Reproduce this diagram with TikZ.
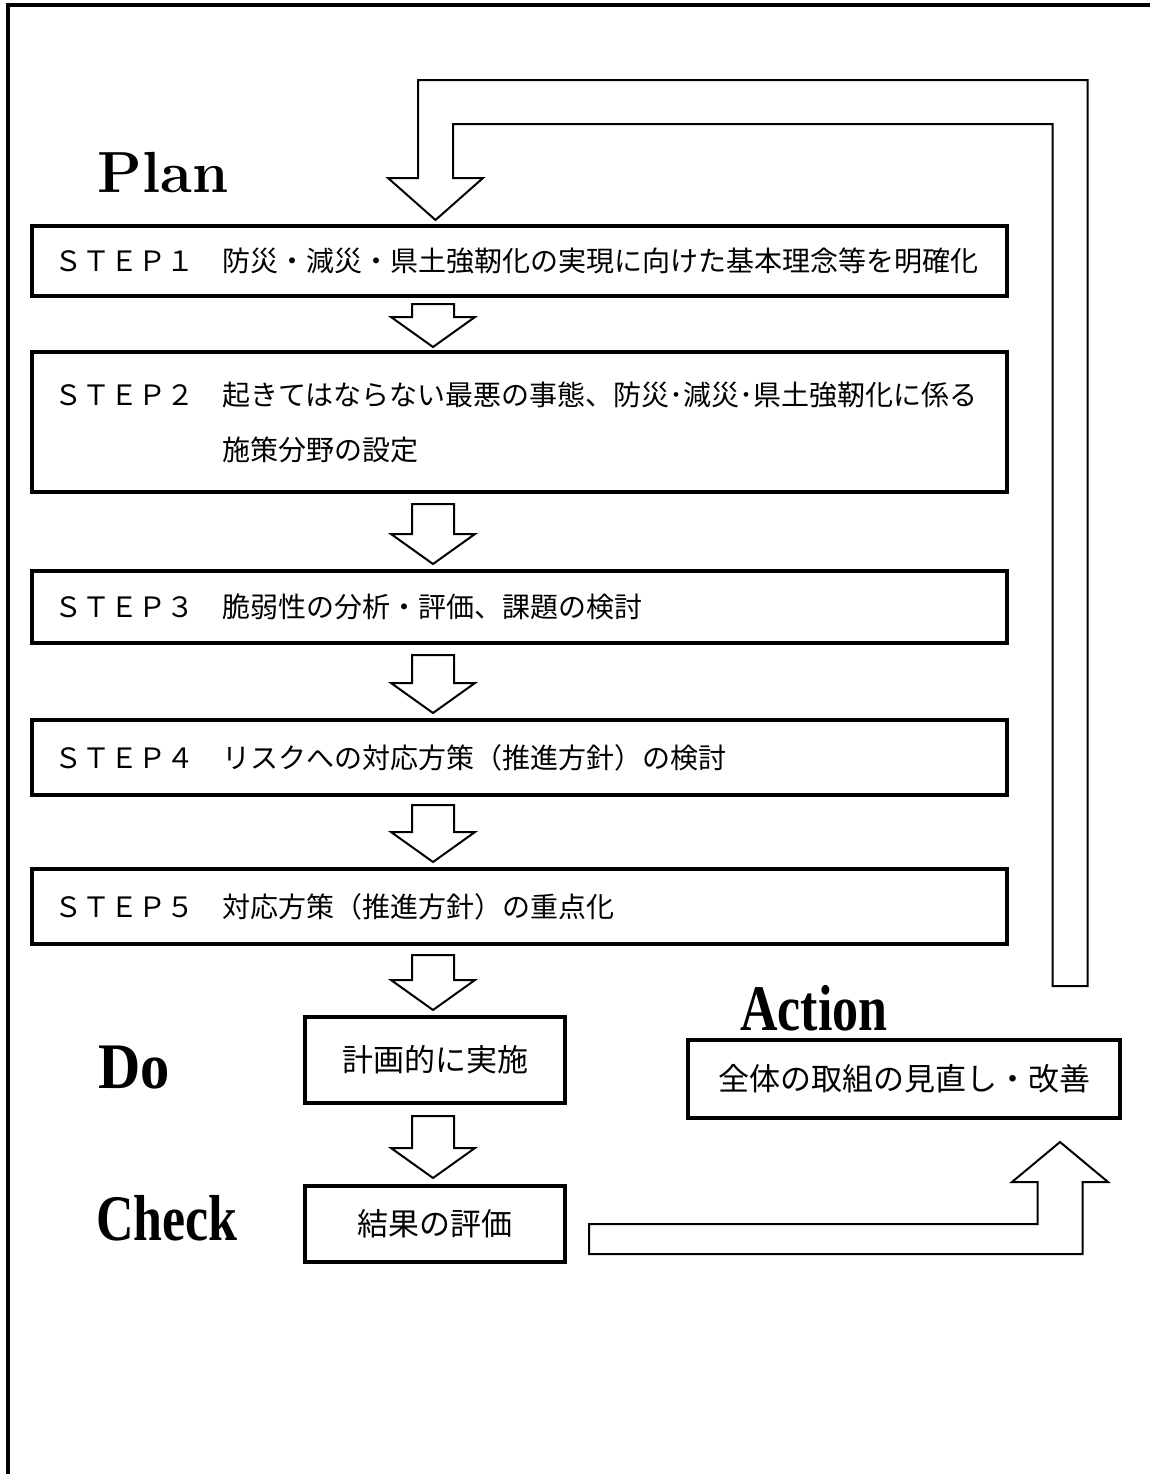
\documentclass[tikz,border=0pt]{standalone}
\usepackage{fontspec}
\usepackage{graphicx}
\newfontfamily\jpfont{Noto Sans CJK JP}
\newfontfamily\lsfont{Liberation Serif}
\usetikzlibrary{calc}
\tikzset{
  stepbox/.style={draw, line width=2pt, inner xsep=11.25pt, inner ysep=0pt, text width=465pt, align=left,
    font=\jpfont\fontsize{14pt}{27.5pt}\selectfont},
  smallbox/.style={draw, line width=2pt, inner sep=0pt, font=\jpfont\fontsize{15.5pt}{18pt}\selectfont},
  blockarrow/.style={draw, line width=1pt, fill=white, line join=miter},
  phase/.style={font=\lsfont\bfseries\fontsize{32.5pt}{36pt}\selectfont, anchor=base, inner sep=0pt},
  frameline/.style={line width=2pt},
}
\newcommand\blockdown[2]{%
  \path[blockarrow] let \p1=(#1), \p2=(#2) in
    (\x1-10.5pt,\y1) -- (\x1+10.5pt,\y1) -- (\x1+10.5pt,\y2+15pt) -- (\x1+21pt,\y2+15pt)
    -- (\x1,\y2) -- (\x1-21pt,\y2+15pt) -- (\x1-10.5pt,\y2+15pt) -- cycle;}
\begin{document}
\begin{tikzpicture}[x=0.5pt,y=-0.5pt]
\useasboundingbox (0,0) rectangle (1150,1474);
\fill[white] (0,0) rectangle (1150,1474);
% frame
\draw[frameline] (8,1490) -- (8,5) -- (1170,5);

% helper x positions
\coordinate (ax) at (433,0);
\coordinate (lx) at (435.5,0);
\coordinate (rx) at (1070,0);
\coordinate (ux) at (1060,0);

% step boxes
\node[stepbox, minimum height=35pt] (s1) at (519.5,261)
  {ＳＴＥＰ１　防災・減災・県土強靭化の実現に向けた基本理念等を明確化};
\node[stepbox, minimum height=70pt] (s2) at (519.5,422)
  {ＳＴＥＰ２　起きてはならない最悪の事態、防災･減災･県土強靭化に係る\\\hspace*{84pt}施策分野の設定};
\node[stepbox, minimum height=36pt] (s3) at (519.5,607)
  {ＳＴＥＰ３　脆弱性の分析・評価、課題の検討};
\node[stepbox, minimum height=37.5pt] (s4) at (519.5,757.5)
  {ＳＴＥＰ４　リスクへの対応方策（推進方針）の検討};
\node[stepbox, minimum height=37.5pt] (s5) at (519.5,906.5)
  {ＳＴＥＰ５　対応方策（推進方針）の重点化};

% Do / Check / Action boxes
\node[smallbox, minimum width=130pt, minimum height=43pt] (do) at (435,1060) {計画的に実施};
\node[smallbox, minimum width=130pt, minimum height=38pt] (chk) at (435,1224) {結果の評価};
\node[smallbox, minimum width=216pt, minimum height=39pt] (act) at (904,1079) {全体の取組の見直し・改善};

% phase labels
\node[font=\bfseries\fontsize{29pt}{32pt}\selectfont, anchor=base, inner sep=0pt] (plan) at (163,192) {Plan};
\node[phase] (dol) at (134,1088) {\scalebox{0.9}[1]{Do}};
\node[phase] (chl) at (167,1240) {\scalebox{0.8}[1]{Check}};
\node[phase] (acl) at (814,1030) {\scalebox{0.8}[1]{Action}};

% block arrows down
\blockdown{$(s1.south -| ax)+(0pt,-3pt)$}{$(s2.north -| ax)+(0pt,1.5pt)$}
\blockdown{$(s2.south -| ax)+(0pt,-5pt)$}{$(s3.north -| ax)+(0pt,2.5pt)$}
\blockdown{$(s3.south -| ax)+(0pt,-5pt)$}{$(s4.north -| ax)+(0pt,2.5pt)$}
\blockdown{$(s4.south -| ax)+(0pt,-4pt)$}{$(s5.north -| ax)+(0pt,2.5pt)$}
\blockdown{$(s5.south -| ax)+(0pt,-4.5pt)$}{$(do.north -| ax)+(0pt,2.5pt)$}
\blockdown{$(do.south -| ax)+(0pt,-5.5pt)$}{$(chk.north -| ax)+(0pt,3pt)$}

% Check -> Action
\path[blockarrow] let \p1=($(chk.east)+(11pt,0pt)$), \p2=($(act.south -| ux)+(0pt,-11pt)$) in
  (\x1,\y1) -- (\x2-11.25pt,\y1) -- (\x2-11.25pt,\y2-20pt) -- (\x2-24pt,\y2-20pt) -- (\x2,\y2)
  -- (\x2+24pt,\y2-20pt) -- (\x2+11.25pt,\y2-20pt) -- (\x2+11.25pt,\y1-15pt) -- (\x1,\y1-15pt) -- cycle;

% Action -> STEP1 loop
\path[blockarrow] let \p1=($(s1.north -| lx)+(0pt,2pt)$), \p2=($(act.north -| rx)+(0pt,26pt)$) in
  (\x2-8.75pt,\y2) -- (\x2-8.75pt,\y1+48pt) -- (\x1+8.75pt,\y1+48pt) -- (\x1+8.75pt,\y1+21pt)
  -- (\x1+23.75pt,\y1+21pt) -- (\x1,\y1) -- (\x1-23.75pt,\y1+21pt) -- (\x1-8.75pt,\y1+21pt)
  -- (\x1-8.75pt,\y1+70pt) -- (\x2+8.75pt,\y1+70pt) -- (\x2+8.75pt,\y2) -- cycle;
\end{tikzpicture}
\end{document}
